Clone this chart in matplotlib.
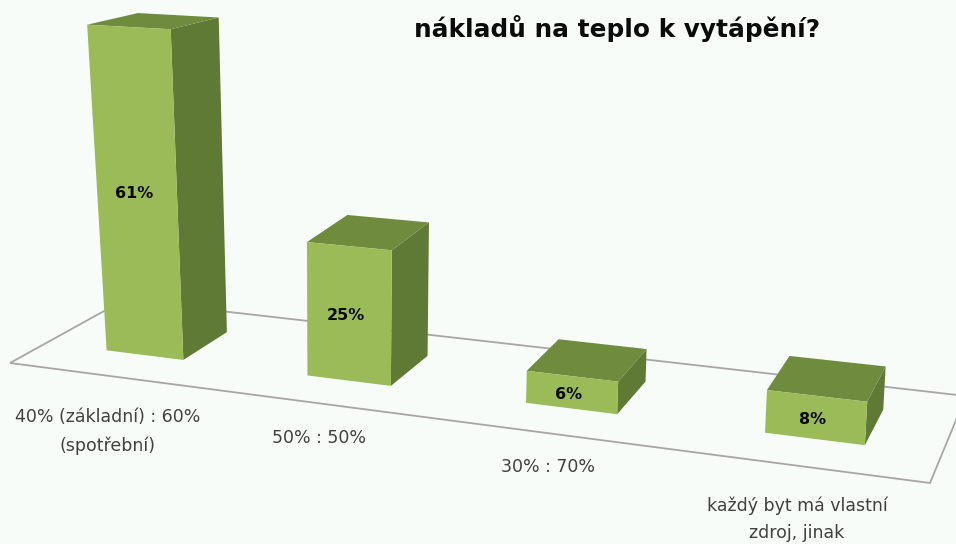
import numpy as np
import matplotlib
matplotlib.use('Agg')
import matplotlib.pyplot as plt

categories = ['40% (základní) : 60%\n(spotřební)', '50% : 50%', '30% : 70%', 'každý byt má vlastní\nzdroj, jinak']
values = [61, 25, 6, 8]
title = 'nákladů na teplo k vytápění?'

# floor corners in pixels: front left, front right, back right, back left
floor = [(10, 363), (930, 483), (966, 396), (124, 300)]
label_pos = [(108, 431.5), (319, 438), (548, 467), (797, 519.5)]


def make_homography(corners):
    """maps (u, v) of the unit square on to the floor polygon"""
    square = [(0, 0), (1, 0), (1, 1), (0, 1)]
    rows = []
    right = []
    for (u, v), (x, y) in zip(square, corners):
        rows.append([u, v, 1, 0, 0, 0, -u * x, -v * x])
        rows.append([0, 0, 0, u, v, 1, -u * y, -v * y])
        right += [x, y]
    h = np.linalg.solve(np.array(rows, dtype=float), np.array(right, dtype=float))
    return np.append(h, 1).reshape(3, 3)


H = make_homography(floor)


def on_floor(u, v):
    p = H @ np.array([u, v, 1.0])
    return np.array([p[0] / p[2], p[1] / p[2]])


def raised(p, value, cx, back=False):
    # bars lean with height, top edges flatten and the back rises less, as in the 3D view of the original
    h = value * 5.38
    h = h * (1 + 2e-4 * (p[0] - cx))
    if back:
        h = h * (1 - 1.7e-4 * h)
    lean = 2.8e-4 if p[0] < 320 else 1e-4
    return p + np.array([(p[0] - 320) * lean * h, -h])


fig = plt.figure(figsize=(9.56, 5.44), dpi=100, facecolor='#f8fcf9')
ax = fig.add_axes([0, 0, 1, 1])
ax.set_xlim(0, 956)
ax.set_ylim(544, 0)
ax.axis('off')

ax.fill(*zip(*floor), facecolor='none', edgecolor='#a6a6a6', linewidth=1.3, zorder=1)

half = 0.049
v_front, v_back = 0.30, 0.72
for i, val in enumerate(values):
    u = (i + 0.5) / len(values) + 0.003
    fl = on_floor(u - half, v_front)
    fr = on_floor(u + half, v_front)
    br = on_floor(u + half, v_back)
    bl = on_floor(u - half, v_back)
    cx = (fl[0] + fr[0]) / 2
    tfl, tfr = raised(fl, val, cx), raised(fr, val, cx)
    tbr, tbl = raised(br, val, cx, back=True), raised(bl, val, cx, back=True)
    ax.fill(*zip(tfr, fr, br, tbr), color='#5f7a34', lw=0, zorder=2 + i)
    ax.fill(*zip(tfl, tfr, tbr, tbl), color='#6f8c3e', lw=0, zorder=2 + i)
    ax.fill(*zip(fl, fr, tfr, tfl), color='#9bbb59', lw=0, zorder=2 + i)
    mid = (fl + fr + tfl + tfr) / 4
    ax.text(mid[0] - 3, mid[1] + 2, f'{val}%', ha='center', va='center', fontsize=11.5,
            fontweight='bold', color='#0a0a0a', family='DejaVu Sans', zorder=10)

for name, (x, y) in zip(categories, label_pos):
    ax.text(x, y, name, ha='center', va='center', fontsize=12.5, color='#404040',
            family='DejaVu Sans', linespacing=1.67, zorder=10)

ax.text(617, 28, title, ha='center', va='center', fontsize=17.8, fontweight='bold',
        color='#0a0a0a', family='DejaVu Sans')

fig.savefig('out.png', dpi=100, facecolor=fig.get_facecolor())
